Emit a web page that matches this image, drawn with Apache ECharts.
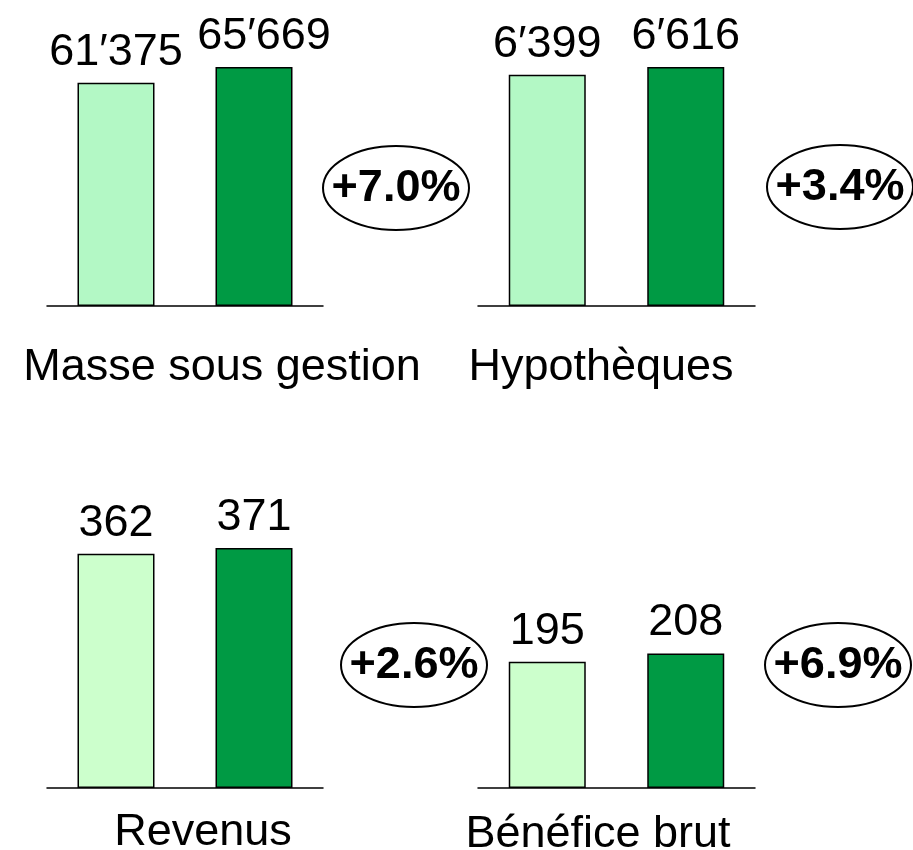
<!DOCTYPE html>
<html>
<head>
<meta charset="utf-8">
<script src="https://cdn.jsdelivr.net/npm/echarts@6/dist/echarts.min.js"></script>
<style>
  html, body { margin: 0; padding: 0; background: #fff; }
  #chart { width: 913px; height: 850px; }
</style>
</head>
<body>
<div id="chart"></div>
<script>
// données
var panelNames = ['Masse sous gestion', 'Hypothèques', 'Revenus', 'Bénéfice brut'];
var prevValues = [61375, 6399, 362, 195];
var currValues = [65669, 6616, 371, 208];
var changeLabels = ['+7.0%', '+3.4%', '+2.6%', '+6.9%'];

var FONT = "'Liberation Sans', Arial, sans-serif";
var DARK = '#009a44';
var LIGHT_TOP = '#b3f8c5';
var LIGHT_BOTTOM = '#ccffcc';

// mise en page des 4 panneaux
var grids = [
    { left: 47, top: 67, width: 276, height: 239 },
    { left: 478, top: 67, width: 277, height: 239 },
    { left: 47, top: 548, width: 276, height: 240 },
    { left: 478, top: 548, width: 277, height: 240 }
];
var ellipses = [[396, 188], [840, 187], [414, 665], [838, 665]];
var titlePos = [[222, 380], [601, 380], [203, 845], [598, 847]];

// la ligne du bas partage la même échelle
var bottomMax = Math.max(currValues[2], currValues[3], prevValues[2], prevValues[3]);

function fmt(v) {
    return String(v).replace(/\B(?=(\d{3})+(?!\d))/g, '\u2032');
}

var xAxes = [], yAxes = [], series = [], graphics = [];
for (var i = 0; i < 4; i++) {
    xAxes.push({
        gridIndex: i,
        type: 'category',
        data: ['prev', 'curr'],
        axisLine: { lineStyle: { color: '#000', width: 1.5 } },
        axisTick: { show: false },
        axisLabel: { show: false }
    });
    yAxes.push({
        gridIndex: i,
        type: 'value',
        min: 0,
        max: i < 2 ? Math.max(prevValues[i], currValues[i]) : bottomMax,
        show: false,
        splitLine: { show: false }
    });
    var light = i < 2 ? LIGHT_TOP : LIGHT_BOTTOM;
    series.push({
        type: 'bar',
        xAxisIndex: i,
        yAxisIndex: i,
        barWidth: 77,
        silent: true,
        itemStyle: { borderColor: '#000', borderWidth: 1.5 },
        label: {
            show: true,
            position: 'top',
            distance: 8,
            color: '#000',
            fontFamily: FONT,
            fontSize: 45,
            formatter: function(p) { return fmt(p.value); }
        },
        data: [
            { value: prevValues[i], itemStyle: { color: light } },
            { value: currValues[i], itemStyle: { color: DARK },
              label: i === 0 ? { offset: [10, 0] } : undefined }
        ]
    });
    graphics.push({
        type: 'ellipse',
        shape: { cx: ellipses[i][0], cy: ellipses[i][1], rx: 73, ry: 42 },
        style: { fill: '#fff', stroke: '#000', lineWidth: 2 },
        z: 10
    });
    graphics.push({
        type: 'text',
        x: ellipses[i][0],
        y: ellipses[i][1] + 1,
        z: 11,
        style: {
            text: changeLabels[i],
            fill: '#000',
            font: 'bold 45px ' + FONT,
            align: 'center',
            verticalAlign: 'middle'
        }
    });
    graphics.push({
        type: 'text',
        x: titlePos[i][0],
        y: titlePos[i][1] + 10,
        z: 11,
        style: {
            text: panelNames[i],
            fill: '#000',
            font: '45px ' + FONT,
            align: 'center',
            verticalAlign: 'bottom'
        }
    });
}

var chart = echarts.init(document.getElementById('chart'), null, { renderer: 'canvas' });
chart.setOption({
    animation: false,
    backgroundColor: '#fff',
    grid: grids,
    xAxis: xAxes,
    yAxis: yAxes,
    series: series,
    graphic: graphics
});
</script>
</body>
</html>
